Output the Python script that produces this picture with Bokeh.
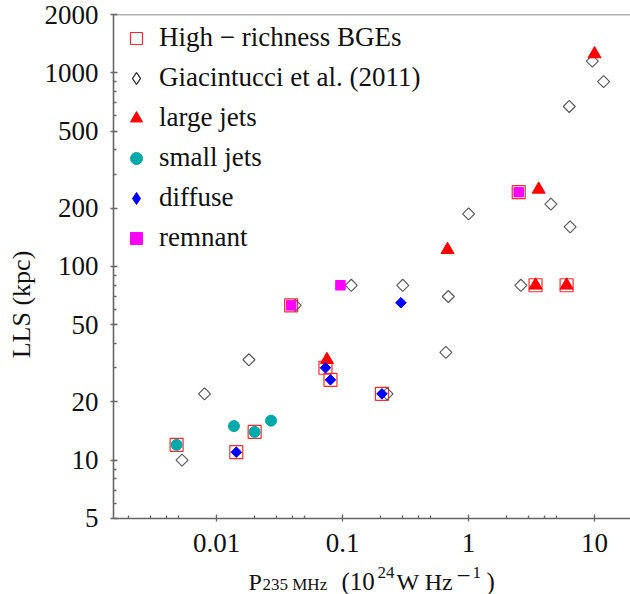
import numpy as np
from bokeh.plotting import figure
from bokeh.models import (FixedTicker, NumeralTickFormatter, Legend, LegendItem,
                          Span, Range1d, Label, ColumnDataSource)
from bokeh.embed import file_html
from bokeh.resources import INLINE

# ---------------- data ----------------
hr_x = [0.0048, 0.0143, 0.020, 0.039, 0.073, 0.080, 0.205, 2.5, 3.4, 6.0]
hr_y = [12, 11, 14, 63, 30, 26, 22, 242, 80, 80]

gia_x = [0.0053, 0.008, 0.018, 0.042, 0.117, 0.225, 0.30, 0.66, 0.69, 1.0,
         2.6, 4.5, 6.4, 6.3, 9.6, 11.8]
gia_y = [10, 22, 33, 63, 80, 22, 80, 36, 70, 187, 80, 210, 160, 670, 1150, 900]

lj_x = [0.075, 0.68, 3.6, 3.4, 6.0, 10.0]
lj_y = [33, 122, 250, 80, 80, 1250]

sj_x = [0.0048, 0.0137, 0.020, 0.027]
sj_y = [12, 15, 14, 16]

df_x = [0.0143, 0.073, 0.080, 0.205, 0.29]
df_y = [11, 30, 26, 22, 65]

rm_x = [0.039, 0.096, 2.5]
rm_y = [63, 80, 242]

x_major = [0.01, 0.1, 1, 10]
x_minor = [0.002, 0.003, 0.004, 0.005, 0.02, 0.03, 0.04, 0.05,
           0.2, 0.3, 0.4, 0.5, 2, 3, 4, 5]
y_major = [5, 10, 20, 50, 100, 200, 500, 1000, 2000]
y_minor = [6, 7, 8, 9, 30, 40, 60, 70, 80, 90, 300, 400, 600, 700, 800, 900]

labels = ["High \u2212 richness BGEs", "Giacintucci et al. (2011)", "large jets",
          "small jets", "diffuse", "remnant"]

FONT = "Liberation Serif"
AX = "#666666"
TXT = "#111111"
Y_LO, Y_HI = 5, 2000

# frame runs to the bottom of the canvas; the x axis is pinned at y = 5
p = figure(width=630, height=594, x_axis_type="log", y_axis_type="log",
           x_range=Range1d(0.001514, 19.3), y_range=Range1d(2.0256, Y_HI),
           output_backend="svg", toolbar_location=None,
           min_border_left=113, min_border_right=0, min_border_top=14,
           min_border_bottom=0)
p.outline_line_color = None
p.grid.visible = False
p.background_fill_color = "white"

r_hr = p.scatter(hr_x, hr_y, marker="square", size=13, fill_color=None,
                 line_color="#ff2a2a", line_width=1.2)
r_gia = p.scatter(gia_x, gia_y, marker="square", angle=np.pi / 4, size=8.5,
                  fill_color=None, line_color="#555555", line_width=1.1)
r_lj = p.scatter(lj_x, lj_y, marker="triangle", size=13, fill_color="#ff0000",
                 line_color="#ff0000")
r_sj = p.scatter(sj_x, sj_y, marker="circle", size=11, fill_color="#00aaaa",
                 line_color="#00aaaa")
r_df = p.scatter(df_x, df_y, marker="square", angle=np.pi / 4, size=7.5,
                 fill_color="#0000ff", line_color="#0000ff")
r_rm = p.scatter(rm_x, rm_y, marker="square", size=9.5, fill_color="#ff00ff",
                 line_color="#ff00ff")

# legend-only proxies (one point far outside the view) so the legend shows diamonds
off = dict(x=[1e-6], y=[1e-6])
lg_gia = p.scatter("x", "y", source=ColumnDataSource(off), marker="diamond",
                   fill_color=None, line_color="#222222", line_width=1.3)
lg_df = p.scatter("x", "y", source=ColumnDataSource(off), marker="diamond",
                  fill_color="#0000ff", line_color="#0000ff")

legend = Legend(items=[LegendItem(label=l, renderers=[r]) for l, r in
                       zip(labels, [r_hr, lg_gia, r_lj, r_sj, lg_df, r_rm])],
                location="top_left", margin=8, padding=9, spacing=9,
                glyph_width=30, glyph_height=30, label_standoff=8,
                border_line_color=None, background_fill_alpha=0,
                label_text_font=FONT, label_text_font_size="27px",
                label_text_color=TXT)
p.add_layout(legend)

# axes
for ax in (p.xaxis[0], p.yaxis[0]):
    ax.axis_line_color = AX
    ax.axis_line_width = 1.6
    ax.major_tick_line_color = AX
    ax.minor_tick_line_color = AX
    ax.major_tick_line_width = 1.3
    ax.minor_tick_line_width = 1.3
    ax.major_tick_in = 4
    ax.major_tick_out = 3
    ax.minor_tick_in = 3
    ax.minor_tick_out = 0
    ax.major_label_text_font = FONT
    ax.major_label_text_font_size = "27px"
    ax.major_label_text_color = TXT

p.xaxis[0].ticker = FixedTicker(ticks=x_major, minor_ticks=x_minor)
p.xaxis[0].formatter = NumeralTickFormatter(format="0.[00]")
p.xaxis[0].major_label_standoff = 13
p.xaxis[0].fixed_location = Y_LO

p.yaxis[0].ticker = FixedTicker(ticks=y_major, minor_ticks=y_minor)
p.yaxis[0].formatter = NumeralTickFormatter(format="0")
p.yaxis[0].bounds = (Y_LO, Y_HI)
p.yaxis[0].major_label_standoff = 12
p.yaxis[0].axis_label = "LLS (kpc)"
p.yaxis[0].axis_label_text_font = FONT
p.yaxis[0].axis_label_text_font_size = "26px"
p.yaxis[0].axis_label_text_font_style = "normal"
p.yaxis[0].axis_label_text_color = TXT
p.yaxis[0].axis_label_standoff = 6

# top border line of the frame
p.add_layout(Span(location=Y_HI, dimension="width", line_color=AX, line_width=1.6))

# x-axis label built from pieces (sub/superscripts); screen coords from frame
FL, FB = 113, 594
pieces = [("P", 248, 581, 24), ("235 MHz", 262, 584, 17), ("(10", 341, 581, 25),
          ("24", 377, 572, 17), ("W Hz", 396, 581, 24), ("\u2212", 456, 575, 25),
          ("1", 472, 572, 17), (")", 486, 581, 25)]
for t, wx, wy, fs in pieces:
    p.add_layout(Label(x=wx - FL, y=FB - wy, x_units="screen", y_units="screen",
                       text=t, text_font=FONT, text_font_size=f"{fs}px",
                       text_baseline="alphabetic", text_align="left",
                       text_color=TXT))

open("out.html", "w").write(file_html(p, INLINE))
